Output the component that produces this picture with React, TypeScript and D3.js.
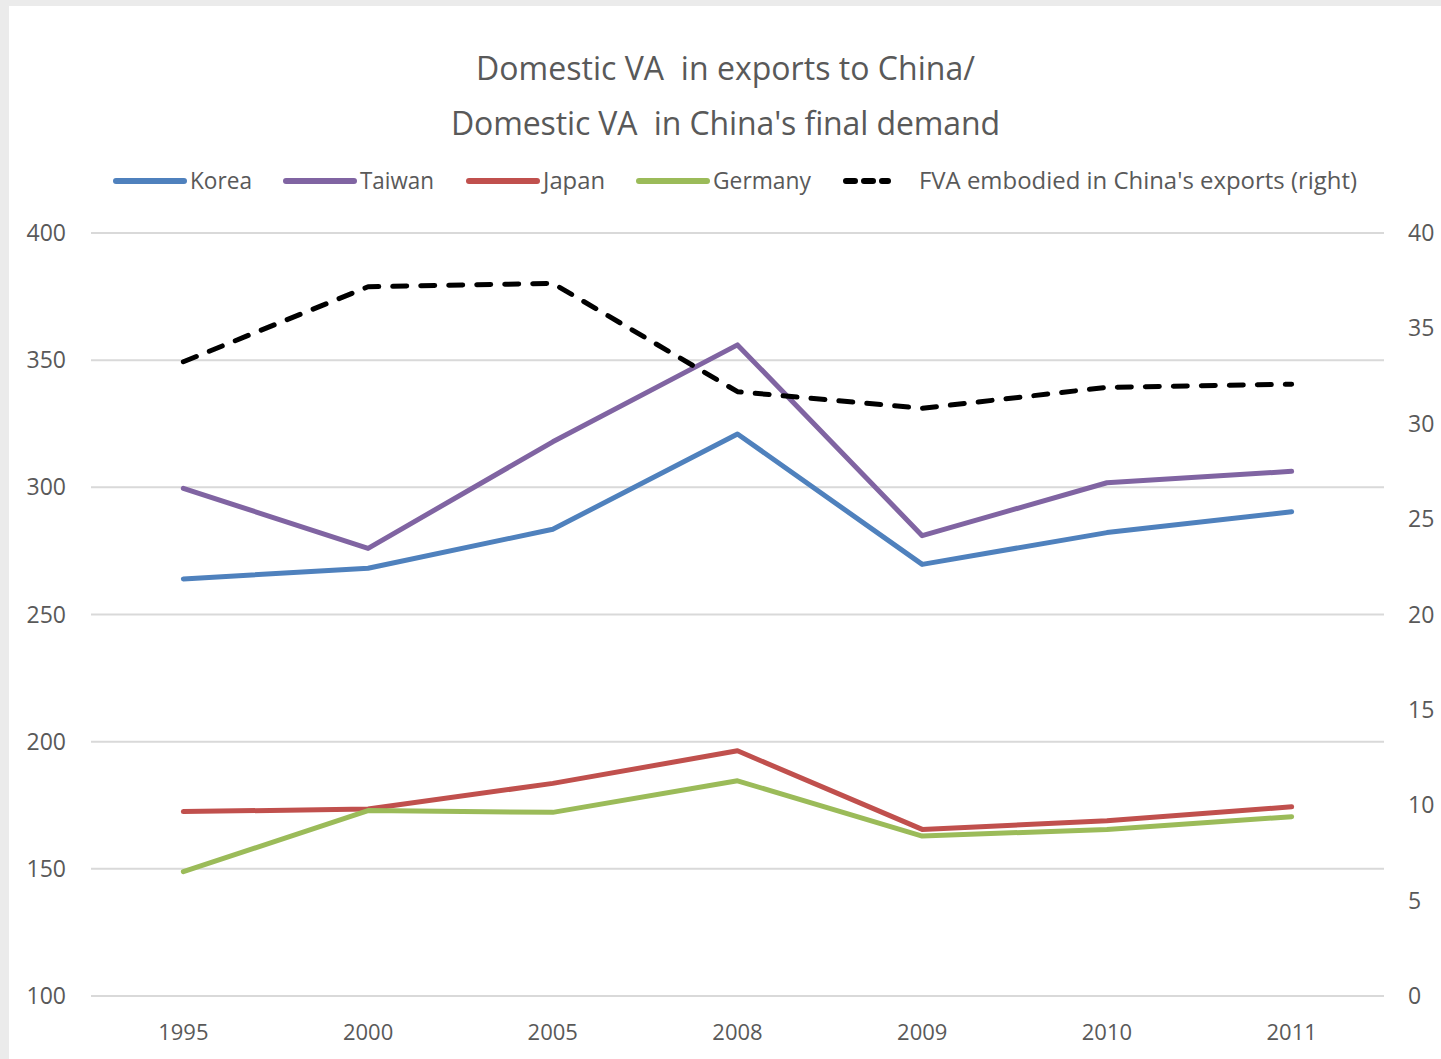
import React from "react";
import * as d3 from "d3";

const years = ["1995", "2000", "2005", "2008", "2009", "2010", "2011"];
const korea = [264.0, 268.2, 283.5, 321.0, 269.7, 282.2, 290.4];
const taiwan = [299.6, 276.0, 317.9, 356.0, 281.0, 301.8, 306.3];
const japan = [172.5, 173.5, 183.6, 196.4, 165.5, 168.9, 174.4];
const germany = [148.9, 172.9, 172.2, 184.6, 162.9, 165.5, 170.5];
const fva = [33.25, 37.18, 37.36, 31.68, 30.81, 31.91, 32.07];
const leftTicks = [100, 150, 200, 250, 300, 350, 400];
const rightTicks = [0, 5, 10, 15, 20, 25, 30, 35, 40];
const titleLines = ["Domestic VA  in exports to China/", "Domestic VA  in China's final demand"];

const seriesDefs = [
  { name: "Korea", values: korea, color: "#4F81BD", axis: "left" },
  { name: "Taiwan", values: taiwan, color: "#8064A2", axis: "left" },
  { name: "Japan", values: japan, color: "#C0504D", axis: "left" },
  { name: "Germany", values: germany, color: "#9BBB59", axis: "left" },
  { name: "FVA embodied in China's exports (right)", values: fva, color: "#000000", axis: "right" },
];

const W = 1441;
const H = 1059;
const font = "'Open Sans', 'Noto Sans', sans-serif";
const textColor = "#595959";

export default function App() {
  const x = d3.scaleBand<string>().domain(years).range([91, 1384]);
  const yL = d3.scaleLinear().domain([100, 400]).range([996, 233]);
  const yR = d3.scaleLinear().domain([0, 40]).range([996, 233]);

  const legendX = [114, 284, 467, 637, 843];
  const legendTextLen = [62, 74, 62, 98, 438];
  const titleLen = [499, 549];

  return (
    <div style={{ position: "absolute", left: 0, top: 0, width: W, height: H }}>
      <svg width={W} height={H} style={{ display: "block" }}>
        <rect x={0} y={0} width={W} height={H} fill="#ebebeb" />
        <rect x={9} y={6} width={W - 9} height={H - 6} fill="#ffffff" />
        {titleLines.map((t, i) => (
          <text
            key={t}
            x={725.5}
            y={80 + i * 55}
            textAnchor="middle"
            fontFamily={font}
            fontSize={32}
            fill={textColor}
            style={{ whiteSpace: "pre" }}
            textLength={titleLen[i]}
            lengthAdjust="spacing"
          >
            {t}
          </text>
        ))}
        {leftTicks.map((t) => (
          <g key={"l" + t}>
            <line x1={91} x2={1384} y1={yL(t)} y2={yL(t)} stroke="#d9d9d9" strokeWidth={2} />
            <text x={66} y={yL(t) + 8} textAnchor="end" fontFamily={font} fontSize={23} fill={textColor}>
              {t}
            </text>
          </g>
        ))}
        {rightTicks.map((t) => (
          <text key={"r" + t} x={1408} y={yR(t) + 8} textAnchor="start" fontFamily={font} fontSize={23} fill={textColor}>
            {t}
          </text>
        ))}
        {years.map((yr) => (
          <text
            key={yr}
            x={(x(yr) as number) + x.bandwidth() / 2}
            y={1040}
            textAnchor="middle"
            fontFamily={font}
            fontSize={22}
            fill={textColor}
          >
            {yr}
          </text>
        ))}
        {seriesDefs.map((s) => {
          const ys = s.axis === "left" ? yL : yR;
          const line = d3
            .line<number>()
            .x((_, i) => (x(years[i]) as number) + x.bandwidth() / 2)
            .y((v) => ys(v));
          const dashed = s.axis === "right";
          return (
            <path
              key={s.name}
              d={line(s.values) || ""}
              fill="none"
              stroke={s.color}
              strokeWidth={5}
              strokeLinecap="round"
              strokeLinejoin="round"
              strokeDasharray={dashed ? "14 14" : undefined}
            />
          );
        })}
        {seriesDefs.map((s, i) => {
          const lx = legendX[i];
          const dashed = s.axis === "right";
          return (
            <g key={"lg" + s.name}>
              {dashed ? (
                <line x1={lx + 3} x2={lx + 45} y1={181} y2={181} stroke={s.color} strokeWidth={6} strokeLinecap="round" strokeDasharray="9 9" />
              ) : (
                <line x1={lx + 2} x2={lx + 70} y1={181} y2={181} stroke={s.color} strokeWidth={6} strokeLinecap="round" />
              )}
              <text
                x={lx + 76}
                y={189}
                fontFamily={font}
                fontSize={23}
                fill={textColor}
                textLength={legendTextLen[i]}
                lengthAdjust="spacingAndGlyphs"
              >
                {s.name}
              </text>
            </g>
          );
        })}
      </svg>
    </div>
  );
}
